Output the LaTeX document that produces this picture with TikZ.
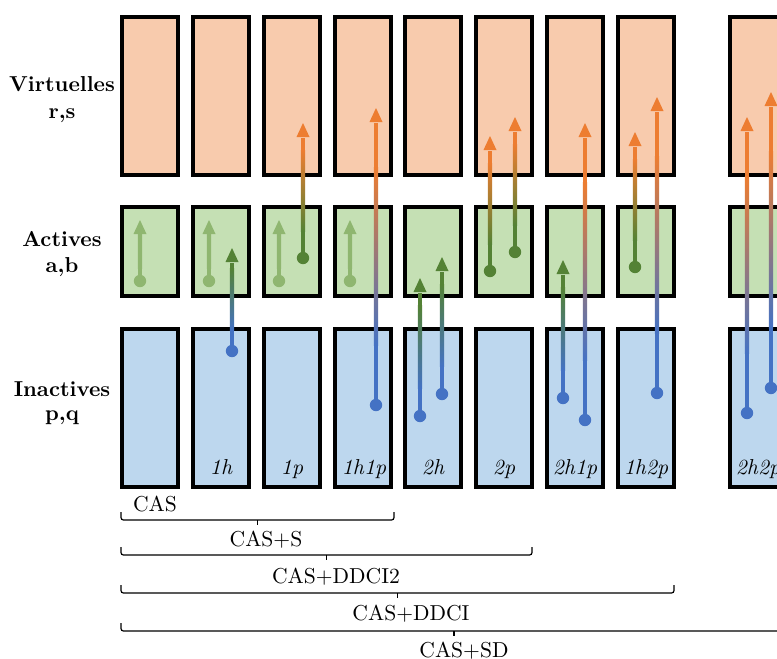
\documentclass[tikz,border=0pt]{standalone}
\usetikzlibrary{calc}
\definecolor{vfill}{HTML}{F8CBAD}
\definecolor{afill}{HTML}{C5E0B4}
\definecolor{ifill}{HTML}{BDD7EE}
\definecolor{corange}{HTML}{ED7D31}
\definecolor{cblue}{HTML}{4472C4}
\definecolor{cgreen}{HTML}{548235}
\definecolor{clight}{RGB}{143,182,112}
\newcommand\drawexc[5]{%
  \pgfmathsetmacro\excya{#2+(#3-#2)*0.2}%
  \pgfmathsetmacro\excyb{#2+(#3-#2)*0.8}%
  \pgfmathsetmacro\excyh{#3+14}%
  \fill[#4] (#1-2.2,#2) rectangle (#1+2.2,\excya);
  \shade[bottom color=#4, top color=#5] (#1-2.2,\excya) rectangle (#1+2.2,\excyb);
  \fill[#5] (#1-2.2,\excyb) rectangle (#1+2.2,\excyh+0.5);
  \fill[#5] (#1,#3) -- (#1-6.5,\excyh) -- (#1+6.5,\excyh) -- cycle;
  \fill[#4] (#1,#2) circle[radius=3.1pt];
}
\newcommand\drawbrc[2]{%
  \draw[bracepath] (#1) -- ($(#1)+(0,8)$) -- ($(#2)+(0,8)$) -- (#2);
  \draw[line width=0.6pt] ($(#1)!0.5!(#2)+(0,8)$) -- ++(0,5);
}
\tikzset{
  box/.style={draw=black, line width=2pt, minimum width=28pt, inner sep=0pt},
  vbox/.style={box, fill=vfill, minimum height=79pt},
  abox/.style={box, fill=afill, minimum height=44.5pt},
  ibox/.style={box, fill=ifill, minimum height=79pt},
  rowlab/.style={font=\fontsize{10.8}{12}\selectfont\bfseries, anchor=base, inner sep=0pt},
  conflab/.style={font=\fontsize{10.8}{12}\selectfont\itshape, anchor=base, inner sep=0pt},
  setlab/.style={font=\fontsize{10.8}{12}\selectfont, anchor=base, inner sep=0pt},
  bracepath/.style={draw, line width=0.6pt, rounded corners=1.2pt},
}
\begin{document}
\begin{tikzpicture}[x=0.5pt, y=-0.5pt]
\path[use as bounding box] (0,0) rectangle (777,659);
\clip (0,0) rectangle (777,659);
% boxes
\foreach \i/\cx in {1/150,2/221,3/292,4/363,5/433,6/504,7/575,8/646,9/758} {
  \node[vbox] (v\i) at (\cx,96) {};
  \node[abox] (a\i) at (\cx,251.5) {};
  \node[ibox] (q\i) at (\cx,408) {};
}
% row labels
\node[rowlab] (lv1) at (62,91) {Virtuelles};
\node[rowlab] (lv2) at (62,118) {r,s};
\node[rowlab] (la1) at (62,246) {Actives};
\node[rowlab] (la2) at (62,272) {a,b};
\node[rowlab] (li1) at (62,396) {Inactives};
\node[rowlab] (li2) at (62,420) {p,q};
% configuration labels
\node[conflab] (c2) at (221,474) {1h};
\node[conflab] (c3) at (292,474) {1p};
\node[conflab] (c4) at (364,474) {1h1p};
\node[conflab] (c5) at (433,474) {2h};
\node[conflab] (c6) at (504,474) {2p};
\node[conflab] (c7) at (575,474) {2h1p};
\node[conflab] (c8) at (646,474) {1h2p};
\node[conflab] (c9) at (758,474) {2h2p};
% faded active arrows
\foreach \ax in {140,209,279,350} {
  \drawexc{\ax}{281}{220}{clight}{clight}
}
% excitations
\drawexc{232}{351}{248}{cblue}{cgreen}
\drawexc{303}{258}{123}{cgreen}{corange}
\drawexc{376}{405}{108}{cblue}{corange}
\drawexc{420}{416}{278}{cblue}{cgreen}
\drawexc{442}{394}{257}{cblue}{cgreen}
\drawexc{490}{271}{136}{cgreen}{corange}
\drawexc{515}{252}{117}{cgreen}{corange}
\drawexc{563}{398}{260}{cblue}{cgreen}
\drawexc{585}{420}{123}{cblue}{corange}
\drawexc{635}{267}{132}{cgreen}{corange}
\drawexc{657}{393}{97}{cblue}{corange}
\drawexc{747}{413}{117}{cblue}{corange}
\drawexc{771}{388}{92}{cblue}{corange}
% braces
\coordinate (b1s) at (121,512); \coordinate (b1e) at (394,512);
\coordinate (b2s) at (121,547); \coordinate (b2e) at (532,547);
\coordinate (b3s) at (121,585); \coordinate (b3e) at (674,585);
\coordinate (b4s) at (121,623); \coordinate (b4e) at (787,623);
\drawbrc{b1s}{b1e}
\drawbrc{b2s}{b2e}
\drawbrc{b3s}{b3e}
\drawbrc{b4s}{b4e}
\node[setlab] (s0) at (155,511) {CAS};
\node[setlab] (s1) at (266,546) {CAS+S};
\node[setlab] (s2) at (336,583) {CAS+DDCI2};
\node[setlab] (s3) at (411,620) {CAS+DDCI};
\node[setlab] (s4) at (464,657) {CAS+SD};
\end{tikzpicture}
\end{document}
